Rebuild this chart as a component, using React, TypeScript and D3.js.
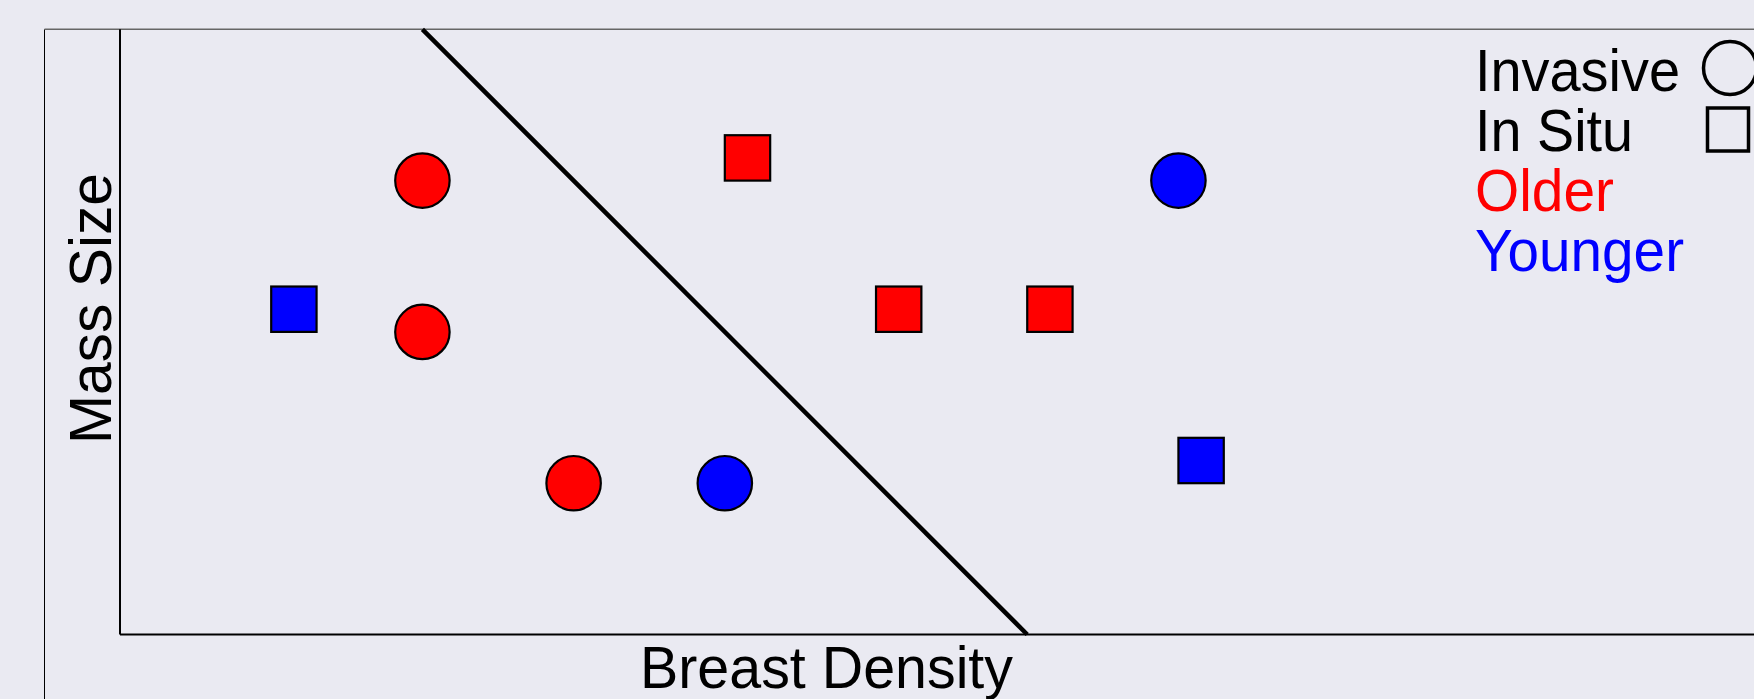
import * as d3 from 'd3'

// values, in plot units
const invasiveX = [2, 2, 3, 4, 7]
const invasiveY = [3, 2, 1, 1, 3]
const invasiveAge = ['Older', 'Older', 'Older', 'Younger', 'Younger']

const inSituX = [1, 4, 5, 6, 7]
const inSituY = [2, 3, 2, 2, 1]
const inSituAge = ['Younger', 'Older', 'Older', 'Older', 'Younger']

const boundaryX = [2, 6]
const boundaryY = [4, 0]

const legendShapes = ['Invasive', 'In Situ']
const legendAges = ['Older', 'Younger']

const ageColor: Record<string, string> = { Older: '#ff0000', Younger: '#0000ff' }

const width = 1754
const height = 699
const bg = '#eaeaf2'
const font = '"Liberation Sans", Arial, Helvetica, sans-serif'

export default function App() {
  const x = d3.scaleLinear([0, 10.8], [120, 1753])
  const y = d3.scaleLinear([0, 4], [634.5, 29.3])
  const r = 0.18
  const side = 0.3

  const line = d3.line<number>((_, i) => x(boundaryX[i]), (d) => y(d))

  const legendText = [...legendShapes, ...legendAges]
  const legendColor = (t: string) => ageColor[t] ?? '#000'
  const legendWidths: Record<string, number> = {
    Invasive: 205,
    'In Situ': 158,
    Older: 139,
    Younger: 209,
  }

  return (
    <div style={{ position: 'absolute', left: 0, top: 0 }}>
      <svg width={width} height={height} style={{ display: 'block' }}>
        <rect width={width} height={height} fill={bg} />

        {/* outer frame */}
        <line x1={44.5} x2={44.5} y1={29.3} y2={height} stroke="#000" strokeWidth={1} />
        <line x1={44.5} x2={width} y1={29.3} y2={29.3} stroke="#666" strokeWidth={1.5} />

        {/* axes */}
        <line x1={x(0)} x2={x(0)} y1={y(4)} y2={y(0)} stroke="#000" strokeWidth={2} />
        <line x1={x(0)} x2={width} y1={y(0)} y2={y(0)} stroke="#000" strokeWidth={2} />

        <path d={line(boundaryY) ?? undefined} fill="none" stroke="#000" strokeWidth={4.5} />

        <g stroke="#000" strokeWidth={2.2}>
          {invasiveX.map((d, i) => (
            <circle
              key={'c' + i}
              cx={x(d)}
              cy={y(invasiveY[i])}
              r={x(r) - x(0)}
              fill={ageColor[invasiveAge[i]]}
            />
          ))}
          {inSituX.map((d, i) => (
            <rect
              key={'s' + i}
              x={x(d)}
              y={y(inSituY[i] + side)}
              width={x(d + side) - x(d)}
              height={y(inSituY[i]) - y(inSituY[i] + side)}
              fill={ageColor[inSituAge[i]]}
            />
          ))}
        </g>

        <text
          x={640}
          y={688}
          fontFamily={font}
          fontSize={60}
          textLength={373}
          lengthAdjust="spacingAndGlyphs"
        >
          Breast Density
        </text>
        <text
          transform="translate(110.5,444) rotate(-90)"
          fontFamily={font}
          fontSize={60}
          textLength={271}
          lengthAdjust="spacingAndGlyphs"
        >
          Mass Size
        </text>

        {legendText.map((t, i) => (
          <text
            key={t}
            x={1475}
            y={90.7 + i * 60}
            fontFamily={font}
            fontSize={60}
            fill={legendColor(t)}
            textLength={legendWidths[t]}
            lengthAdjust="spacingAndGlyphs"
          >
            {t}
          </text>
        ))}
        <circle cx={1730} cy={68} r={26.5} fill="none" stroke="#000" strokeWidth={3.5} />
        <rect x={1707.5} y={108} width={41} height={43} fill="none" stroke="#000" strokeWidth={3.5} />
      </svg>
    </div>
  )
}
